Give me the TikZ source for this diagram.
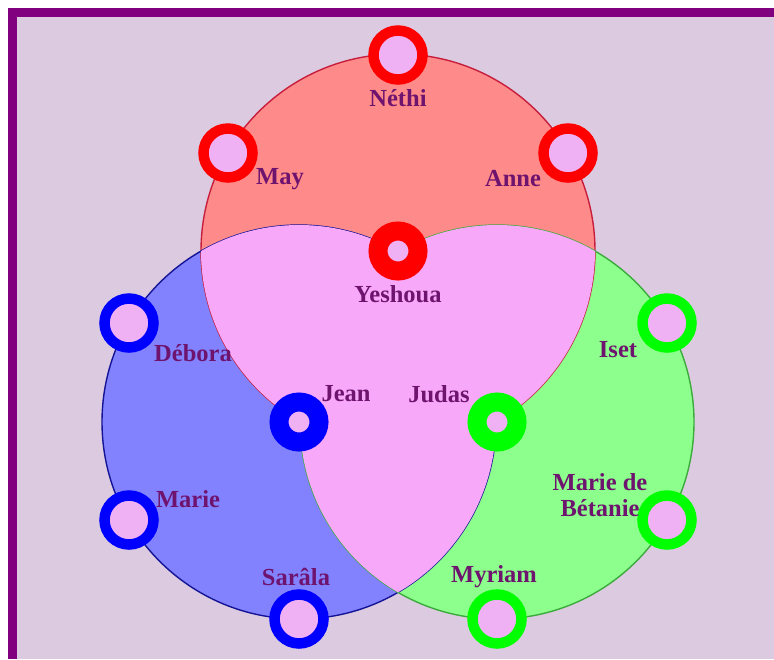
\documentclass[tikz,border=0pt]{standalone}
\usepackage{fontspec}
\setmainfont{Liberation Serif}
\definecolor{bgpurple}{RGB}{220,203,224}
\definecolor{framepurple}{RGB}{128,0,128}
\definecolor{redfill}{RGB}{255,138,138}
\definecolor{bluefill}{RGB}{130,130,255}
\definecolor{greenfill}{RGB}{140,255,140}
\definecolor{overlap}{RGB}{248,168,248}
\definecolor{nodepink}{RGB}{240,176,244}
\definecolor{ringred}{RGB}{255,0,0}
\definecolor{ringblue}{RGB}{0,0,255}
\definecolor{ringgreen}{RGB}{0,255,0}
\definecolor{redline}{RGB}{200,30,60}
\definecolor{blueline}{RGB}{20,20,150}
\definecolor{greenline}{RGB}{60,170,60}
\definecolor{labelpurple}{RGB}{110,20,110}
\begin{document}
\begin{tikzpicture}[x=1pt,y=-1pt,
  ring/.style={circle,draw=#1,line width=10.5pt,fill=nodepink,minimum size=49pt,inner sep=0pt},
  hub/.style={circle,draw=#1,line width=19pt,fill=nodepink,minimum size=40pt,inner sep=0pt},
  lbl/.style={text=labelpurple,font=\bfseries\fontsize{24.5}{26}\selectfont,inner sep=0pt,align=center}]
% frame and background
\fill[white] (0,0) rectangle (774,659);
\fill[framepurple] (8,8) rectangle (774,659);
\fill[bgpurple] (17,17) rectangle (774,659);
\useasboundingbox (0,0) rectangle (774,659);
% circle centres
\coordinate (R) at (398,251);
\coordinate (B) at (299,422);
\coordinate (G) at (497,422);
% fills
\fill[redfill] (R) circle (197pt);
\fill[bluefill] (B) circle (197pt);
\fill[greenfill] (G) circle (197pt);
% outlines
\draw[redline,line width=1.4pt] (R) circle (197pt);
\draw[blueline,line width=1.4pt] (B) circle (197pt);
\draw[greenline,line width=1.4pt] (G) circle (197pt);
% overlap regions (cover the inner arcs)
\begin{scope}
  \clip (R) circle (197pt);
  \fill[overlap] (B) circle (197pt);
  \fill[overlap] (G) circle (197pt);
\end{scope}
\begin{scope}
  \clip (B) circle (197pt);
  \fill[overlap] (G) circle (197pt);
\end{scope}
% hubs
\node[hub=ringred] (yeshoua) at (R) {};
\node[hub=ringblue] (jean) at (B) {};
\node[hub=ringgreen] (judas) at (G) {};
% red ring nodes
\node[ring=ringred] (nethi) at (398,55) {};
\node[ring=ringred] (may) at (228,153) {};
\node[ring=ringred] (anne) at (568,153) {};
% blue ring nodes
\node[ring=ringblue] (debora) at (129,323) {};
\node[ring=ringblue] (marie) at (129,520) {};
\node[ring=ringblue] (sarala) at (299,619) {};
% green ring nodes
\node[ring=ringgreen] (iset) at (667,323) {};
\node[ring=ringgreen] (mariebet) at (667,520) {};
\node[ring=ringgreen] (myriam) at (497,619) {};
% labels
\node[lbl] (lnethi) at (398,98) {Néthi};
\node[lbl] (lmay) at (280,179) {May};
\node[lbl] (lanne) at (513,179) {Anne};
\node[lbl] (lyeshoua) at (398,294) {Yeshoua};
\node[lbl] (ldebora) at (193,353) {Débora};
\node[lbl] (liset) at (618,350) {Iset};
\node[lbl] (ljean) at (346,394) {Jean};
\node[lbl] (ljudas) at (439,394) {Judas};
\node[lbl] (lmarie) at (188,499) {Marie};
\node[lbl] (lmariebet) at (600,495) {Marie de\\Bétanie};
\node[lbl] (lsarala) at (296,577) {Sarâla};
\node[lbl] (lmyriam) at (494,577) {Myriam};
\end{tikzpicture}
\end{document}
